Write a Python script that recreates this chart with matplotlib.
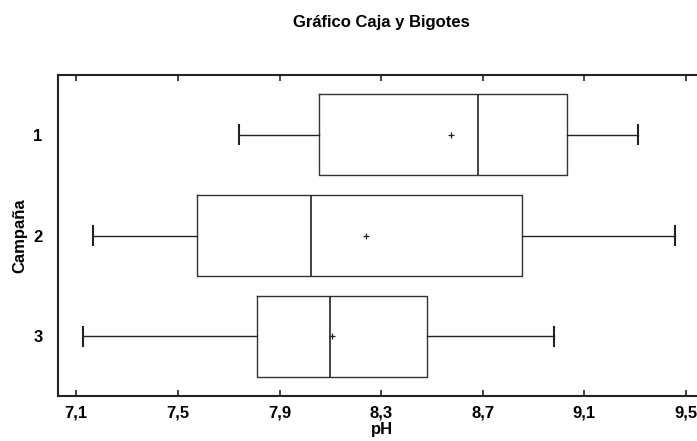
import matplotlib
matplotlib.use("Agg")
from matplotlib import pyplot as plt

plt.rcParams["font.family"] = ["Liberation Sans", "DejaVu Sans"]
plt.rcParams["font.weight"] = "bold"

# Estadísticos (pH por campaña)
campanas = ["1", "2", "3"]
bigote_inf = [7.739, 7.167, 7.126]
q1 = [8.054, 7.574, 7.810]
mediana = [8.680, 8.025, 8.098]
q3 = [9.033, 8.856, 8.482]
bigote_sup = [9.310, 9.458, 8.980]
media = [8.575, 8.242, 8.107]
ticks_x = [7.1, 7.5, 7.9, 8.3, 8.7, 9.1, 9.5]

stats = []
for i, c in enumerate(campanas):
    stats.append({
        "label": c, "whislo": bigote_inf[i], "q1": q1[i], "med": mediana[i],
        "q3": q3[i], "whishi": bigote_sup[i], "mean": media[i], "fliers": [],
    })

fig = plt.figure(figsize=(6.97, 4.41), dpi=100)
ax = fig.add_axes([58 / 697, 1 - 396 / 441, (705 - 58) / 697, (396 - 75) / 441])

ax.bxp(stats, positions=[1, 2, 3], vert=False, widths=0.8, capwidths=0.19,
       showmeans=True, showfliers=False,
       boxprops=dict(color="#333333", linewidth=1.0),
       medianprops=dict(color="#222222", linewidth=1.2),
       whiskerprops=dict(color="#222222", linewidth=1.0),
       capprops=dict(color="#222222", linewidth=1.5),
       meanprops=dict(marker="+", markeredgecolor="#222222", markersize=5,
                      markeredgewidth=0.9))

ax.set_xlim(7.028, 9.575)
ax.set_ylim(3.59, 0.41)
ax.set_xticks(ticks_x)
ax.set_xticklabels([f"{t:.1f}".replace(".", ",") for t in ticks_x], fontsize=12, fontweight="bold")
ax.set_yticks([1, 2, 3])
ax.set_yticklabels(campanas, fontsize=12, fontweight="bold")
ax.tick_params(axis="x", direction="in", top=True, length=4, width=1.2, pad=7, color="#222222")
ax.tick_params(axis="y", length=0, pad=11)
for s in ax.spines.values():
    s.set_linewidth(1.5)
    s.set_color("#222222")

ax.set_xlabel("pH", fontsize=12, fontweight="bold", labelpad=1)
ax.set_ylabel("Campaña", fontsize=12, fontweight="bold", labelpad=4.5)
fig.text(381 / 697, 1 - 23 / 441, "Gráfico Caja y Bigotes", ha="center", va="center",
         fontsize=12, fontweight="bold")

fig.savefig("out.png", dpi=100)
